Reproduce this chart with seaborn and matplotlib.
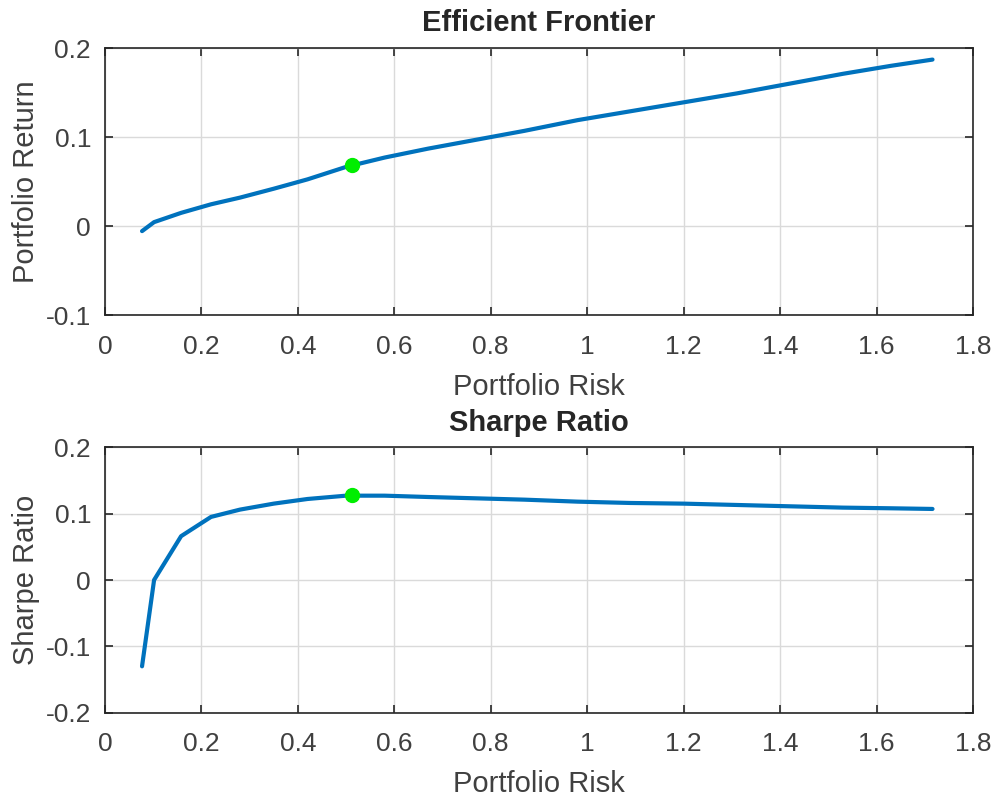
import numpy as np
import pandas as pd
import seaborn as sns
import matplotlib
matplotlib.use('Agg')
import matplotlib.pyplot as plt
from matplotlib import font_manager

# values
risk = [0.077, 0.102, 0.158, 0.22, 0.28, 0.35, 0.42, 0.50, 0.58, 0.67,
        0.77, 0.87, 0.98, 1.09, 1.20, 1.31, 1.42, 1.53, 1.63, 1.716]
port_return = [-0.0056, 0.0045, 0.0149, 0.0245, 0.032, 0.042, 0.0525, 0.0665, 0.077, 0.087,
               0.097, 0.107, 0.119, 0.129, 0.139, 0.149, 0.160, 0.171, 0.180, 0.187]
sharpe = [-0.13, 0.0, 0.066, 0.095, 0.106, 0.115, 0.122, 0.127, 0.127, 0.125,
          0.123, 0.121, 0.118, 0.116, 0.115, 0.113, 0.111, 0.109, 0.108, 0.107]
best_risk = [0.512]
best_return = [0.0685]
best_sharpe = [0.128]

sns.set_theme(style="ticks")
names = [f.name for f in font_manager.fontManager.ttflist]
fam = 'Liberation Sans Narrow' if 'Liberation Sans Narrow' in names else 'Liberation Sans'
plt.rcParams['font.family'] = [fam, 'DejaVu Sans']

df = pd.DataFrame({'risk': risk, 'ret': port_return, 'sharpe': sharpe})
best = pd.DataFrame({'risk': best_risk, 'ret': best_return, 'sharpe': best_sharpe})

line_col = '#0072BD'
fig = plt.figure(figsize=(9.99, 8.0), dpi=100)
ax1 = fig.add_axes([0.105, 0.606, 0.869, 0.334])
ax2 = fig.add_axes([0.105, 0.109, 0.869, 0.332])

def style(ax, yticks):
    ax.set_xlim(0, 1.8)
    ax.set_xticks(np.arange(0, 1.81, 0.2))
    ax.set_xticklabels(['0', '0.2', '0.4', '0.6', '0.8', '1', '1.2', '1.4', '1.6', '1.8'])
    ax.set_ylim(yticks[0], yticks[-1])
    ax.set_yticks(yticks)
    ax.set_yticklabels(['0' if abs(v) < 1e-9 else ('%g' % v) for v in yticks])
    ax.grid(True, color='#dadada', linewidth=1.0)
    for s in ax.spines.values():
        s.set_visible(True)
        s.set_color('#262626')
        s.set_linewidth(1.2)
    ax.tick_params(direction='in', top=True, right=True, length=6, width=1.2,
                   labelsize=19, colors='#262626', labelcolor='#404040')
    ax.tick_params(axis='x', pad=14)
    ax.tick_params(axis='y', pad=10)
    ax.set_xlabel('Portfolio Risk', fontsize=21, color='#404040', labelpad=10)

sns.lineplot(data=df, x='risk', y='ret', sort=False, color=line_col, linewidth=3, ax=ax1)
ax1.plot(best['risk'], best['ret'], 'o', color='#00ee00', markersize=10)
style(ax1, [-0.1, 0, 0.1, 0.2])
ax1.set_ylabel('Portfolio Return', fontsize=21, color='#404040')
ax1.set_title('Efficient Frontier', fontsize=21, fontweight='bold', pad=12)

sns.lineplot(data=df, x='risk', y='sharpe', sort=False, color=line_col, linewidth=3, ax=ax2)
ax2.plot(best['risk'], best['sharpe'], 'o', color='#00ee00', markersize=10)
style(ax2, [-0.2, -0.1, 0, 0.1, 0.2])
ax2.set_ylabel('Sharpe Ratio', fontsize=21, color='#404040')
ax2.set_title('Sharpe Ratio', fontsize=21, fontweight='bold', pad=12)

fig.savefig('out.png', dpi=100)
